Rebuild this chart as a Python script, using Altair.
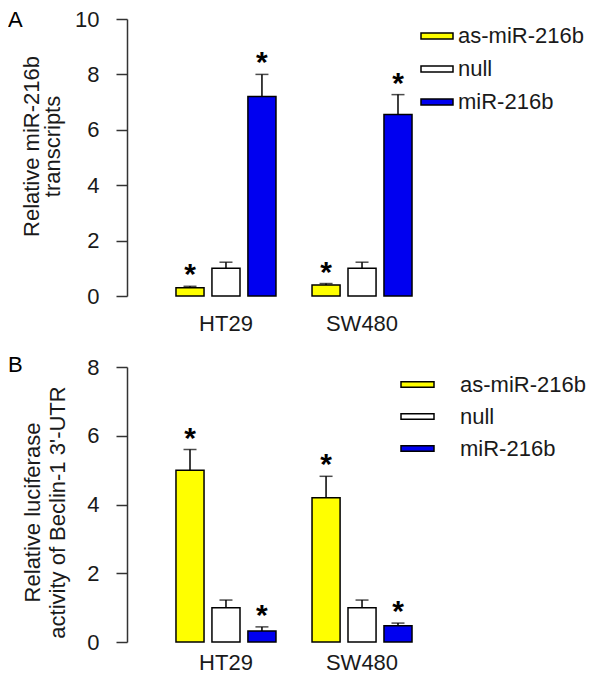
import altair as alt
import pandas as pd

cells = ["HT29", "SW480"]
groups = ["as-miR-216b", "null", "miR-216b"]
colors = ["#FFFF00", "#FFFFFF", "#0000F0"]

# Panel A: relative miR-216b transcripts (HT29 x3, SW480 x3)
a_mean = [0.30, 1.00, 7.20, 0.40, 1.00, 6.55]
a_err = [0.05, 0.22, 0.80, 0.05, 0.22, 0.72]
a_star = [True, False, True, True, False, True]

# Panel B: relative luciferase activity of Beclin-1 3'-UTR
b_mean = [5.00, 1.00, 0.32, 4.20, 1.00, 0.47]
b_err = [0.60, 0.22, 0.12, 0.62, 0.22, 0.08]
b_star = [True, False, True, True, False, True]

FONT = "Liberation Sans"
TXT = "#1a1a1a"


def panel(key, channel, mean, err, star, ymax, letter, letter_y, title, title_lh, title_x,
          title_y, x_pad, legend_x, legend_y, label_offset, row_pad, sym_path, sym_size,
          height):
    gfield = "grp_" + key
    df = pd.DataFrame({
        "cell": [c for c in cells for _ in groups],
        gfield: [g for _ in cells for g in groups],
        "mean": mean,
        "upper": [m + e for m, e in zip(mean, err)],
        "star": star,
    })
    base = alt.Chart(df)
    x = alt.X("cell:N", sort=cells,
              scale=alt.Scale(paddingInner=0.265, paddingOuter=0.36),
              axis=alt.Axis(title=None, labelAngle=0, domain=False, ticks=False,
                            labelPadding=x_pad))
    xo = alt.XOffset(gfield + ":N", sort=groups,
                     scale=alt.Scale(paddingInner=0.22, paddingOuter=0))
    yscale = alt.Scale(domain=[0, ymax], nice=False)
    yaxis = alt.Axis(values=list(range(0, ymax + 1, 2)), title=title,
                     titleLineHeight=title_lh, titleX=title_x, titleY=title_y)
    legend = alt.Legend(title=None, orient="none", legendX=legend_x, legendY=legend_y,
                        symbolType=sym_path, symbolSize=sym_size,
                        symbolStrokeColor="black", symbolStrokeWidth=1.5,
                        labelOffset=label_offset, rowPadding=row_pad)
    cscale = alt.Scale(domain=groups, range=colors)
    if channel == "fill":
        cenc = {"fill": alt.Fill(gfield + ":N", scale=cscale, legend=legend)}
    else:
        cenc = {"color": alt.Color(gfield + ":N", scale=cscale, legend=legend)}
    bars = base.mark_bar(stroke="black", strokeWidth=1.5, filled=True).encode(
        x=x, xOffset=xo, y=alt.Y("mean:Q", scale=yscale, axis=yaxis), **cenc)
    rule = base.mark_rule(color="black", strokeWidth=1.5).encode(
        x=x, xOffset=xo, y=alt.Y("mean:Q", scale=yscale, axis=yaxis), y2="upper:Q")
    cap = base.mark_tick(color="black", thickness=1.5, size=13).encode(
        x=x, xOffset=xo, y=alt.Y("upper:Q", scale=yscale, axis=yaxis))
    stars = base.transform_filter("datum.star").mark_text(
        text="*", fontSize=30, fontWeight="bold", baseline="alphabetic", dy=-2,
        font=FONT, color="black").encode(
        x=x, xOffset=xo, y=alt.Y("upper:Q", scale=yscale, axis=yaxis))
    lab = alt.Chart(pd.DataFrame({"t": [letter]})).mark_text(
        fontSize=22, font=FONT, color="black", align="left",
        baseline="alphabetic").encode(
        text="t:N", x=alt.value(-119), y=alt.value(letter_y))
    return alt.layer(bars, rule, cap, stars, lab).properties(width=334, height=height)


path_a = "M-1,-0.19L1,-0.19L1,0.19L-1,0.19Z"
path_b = "M-1,-0.165L1,-0.165L1,0.165L-1,0.165Z"

chart_a = panel("a", "fill", a_mean, a_err, a_star, 10, "A", 8,
                ["Relative miR-216b", "transcripts"], 21, -84, 127,
                17, 293, 0, 4, 5, path_a, 1024, 277)
chart_b = panel("b", "color", b_mean, b_err, b_star, 8, "B", 5,
                ["Relative luciferase", "activity of Beclin-1 3'-UTR"], 25, -83, 145,
                10, 273, 0, 25, 3, path_b, 1089, 275)

chart = alt.vconcat(chart_a, chart_b, spacing=20).properties(
    resolve=alt.Resolve(
        scale=alt.ScaleResolveMap(color="independent", fill="independent",
                                  x="independent", y="independent",
                                  xOffset="independent"),
        legend=alt.LegendResolveMap(color="independent", fill="independent"),
        axis=alt.AxisResolveMap(x="independent", y="independent"),
    ),
    padding={"left": 0, "top": 0, "right": 0, "bottom": 0},
).configure(font=FONT).configure_view(strokeWidth=0, stroke="transparent").configure_axisLeft(
    grid=False, domainColor="#333333", tickColor="#333333", domainWidth=1.5,
    tickWidth=1.5, tickSize=11, ticks=True, labelPadding=17, labelFontSize=22,
    labelColor=TXT, labelFont=FONT, titleFontSize=22, titleFontWeight="normal",
    titleColor=TXT, titleFont=FONT
).configure_axisBottom(
    labelFontSize=22, labelColor=TXT, labelFont=FONT, domain=False, ticks=False, grid=False
).configure_legend(
    symbolStrokeColor="black", symbolStrokeWidth=1.5, labelFontSize=22,
    labelColor=TXT, labelFont=FONT, padding=0, labelLimit=300
)

chart.save("out.html", embed_options={"renderer": "svg", "actions": False})
